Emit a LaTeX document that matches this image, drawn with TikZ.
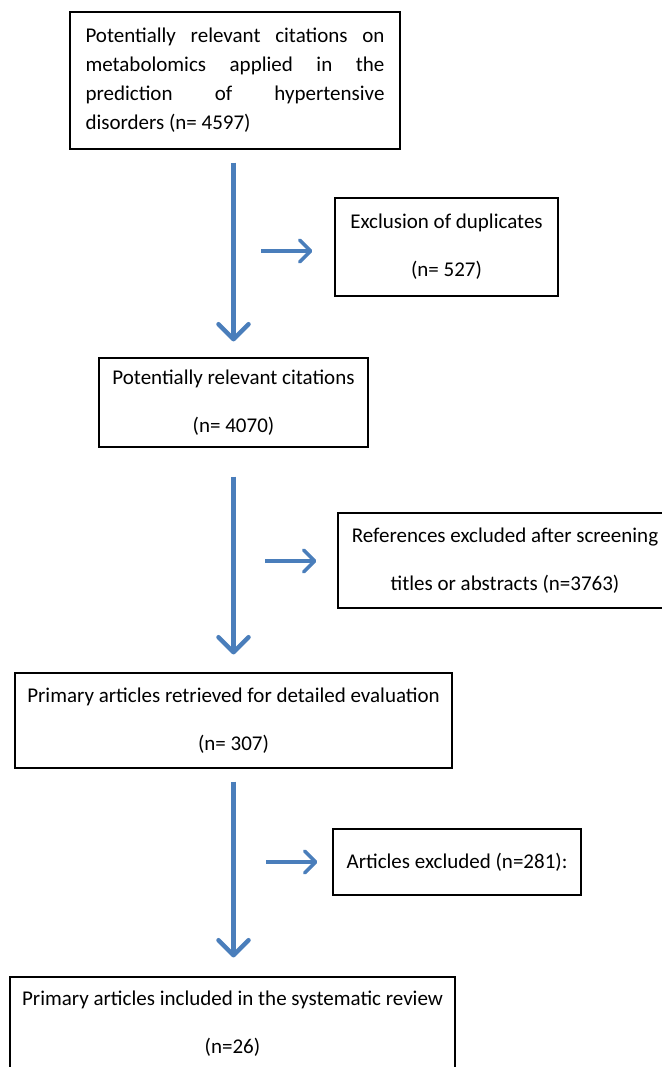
\documentclass[tikz,border=0pt]{standalone}
\usepackage{fontspec}
\setmainfont{Carlito}
\usetikzlibrary{arrows.meta}
\definecolor{flowblue}{RGB}{74,126,187}

\begin{document}
\begin{tikzpicture}[x=1pt, y=-1pt,
    box/.style={draw, line width=1.1pt, inner sep=0pt, align=center, font=\fontsize{21}{48}\selectfont},
    flow/.style={draw=flowblue, line width=5pt, -{Straight Barb[length=15pt, width=30pt, line width=4.5pt, round]}},
    side/.style={draw=flowblue, line width=4pt, -{Straight Barb[length=11pt, width=22pt, line width=3.5pt, round]}}]
    \useasboundingbox (0,0) rectangle (661,1067);

    \node[box, minimum width=330pt, minimum height=137pt, text width=299pt, align=justify,
          font=\fontsize{21}{29}\selectfont] (cites) at (235,80.5)
        {Potentially relevant citations on\linebreak metabolomics applied in the\linebreak prediction of hypertensive\linebreak disorders (n=~4597)};
    \node[box, minimum width=223pt, minimum height=98pt] (dupl) at (446.5,247) {Exclusion of duplicates\\(n=~527)};
    \node[box, minimum width=269pt, minimum height=89pt] (relev) at (233.5,402.5) {Potentially relevant citations\\(n=~4070)};
    \node[box, minimum width=334pt, minimum height=95pt] (screen) at (505,560.5) {References excluded after screening\\titles or abstracts (n=3763)};
    \node[box, minimum width=437pt, minimum height=95pt] (retr) at (233.5,720.5) {Primary articles retrieved for detailed evaluation\\(n=~307)};
    \node[box, minimum width=248pt, minimum height=66pt] (excl) at (457,862) {Articles excluded (n=281):};
    \node[box, minimum width=445pt, minimum height=93pt] (incl) at (232.5,1023.5) {Primary articles included in the systematic review\\(n=26)};

    % main flow
    \draw[flow, shorten <=13pt, shorten >=16pt] (cites.south -| relev.north) -- (relev.north);
    \draw[flow, shorten <=29pt, shorten >=18pt] (relev.south) -- (retr.north);
    \draw[flow, shorten <=13pt, shorten >=19pt] (retr.south) -- (incl.north -| retr.south);

    % side exits
    \coordinate (d1) at (261,251);
    \coordinate (s1) at (265,561);
    \coordinate (e1) at (266,862);
    \draw[side, shorten >=22pt] (d1) -- (d1 -| dupl.west);
    \draw[side, shorten >=21pt] (s1) -- (s1 -| screen.west);
    \draw[side, shorten >=15pt] (e1) -- (e1 -| excl.west);
\end{tikzpicture}
\end{document}
